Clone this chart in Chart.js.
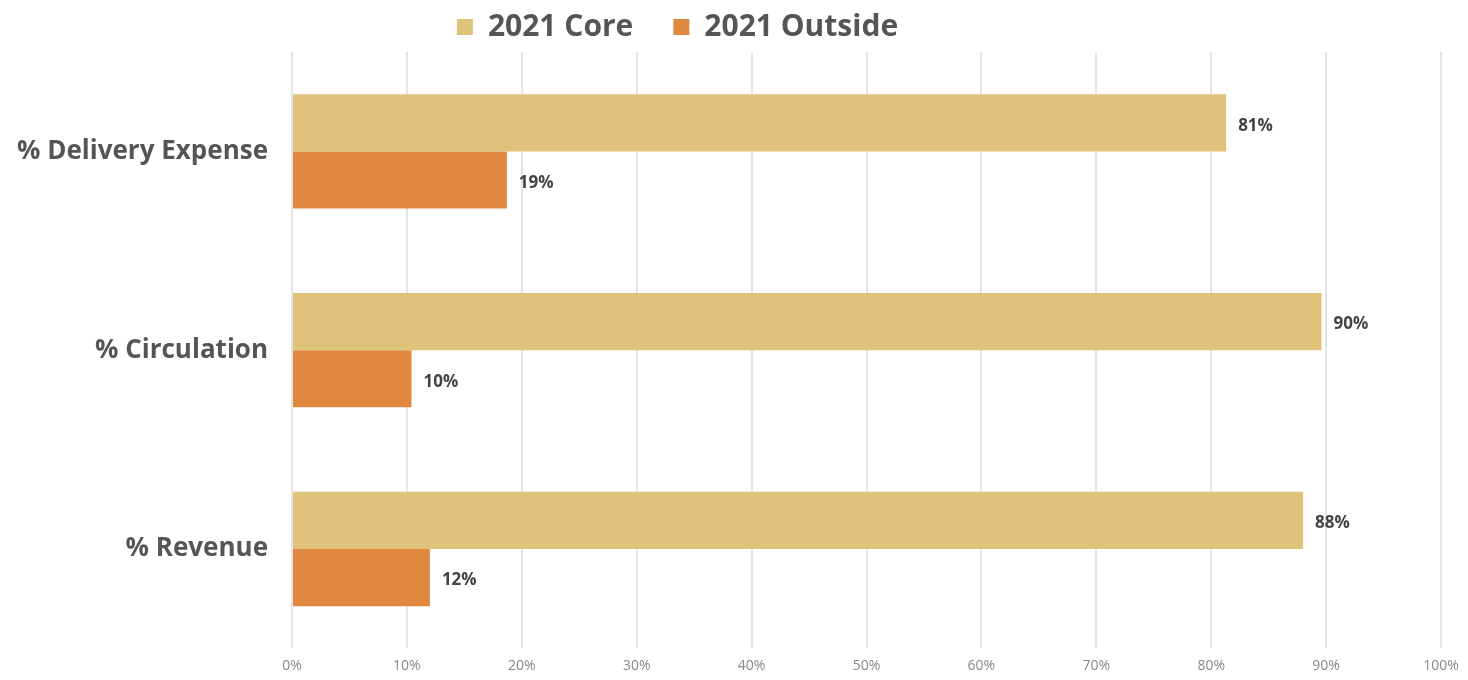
<!DOCTYPE html>
<html>
<head>
<meta charset="utf-8">
<script src="https://cdn.jsdelivr.net/npm/chart.js@4/dist/chart.umd.min.js"></script>
<style>
  html, body { margin: 0; padding: 0; background: #fff; overflow: hidden; }
  #wrap { width: 1468px; height: 680px; }
</style>
</head>
<body>
<div id="wrap"><canvas id="chart"></canvas></div>
<script>
/* Data */
const categories = ["% Delivery Expense", "% Circulation", "% Revenue"];
const coreValues = [81.3, 89.6, 88.0];
const outsideValues = [18.7, 10.4, 12.0];
const seriesNames = ["2021 Core", "2021 Outside"];

/* Colours and fonts */
const CORE_COLOR = "#E0C37A";
const OUTSIDE_COLOR = "#E08840";
const TEXT_COLOR = "#555555";
const FONT = "'Open Sans', Lato, sans-serif";

/* Value labels at the end of each bar, plus a small legend shift to the left */
const barLabels = {
  id: "barLabels",
  afterUpdate(chart) {
    if (chart.legend) {
      chart.legend.right -= 86;
      chart.legend.width -= 86;
    }
  },
  afterDatasetsDraw(chart) {
    const ctx = chart.ctx;
    ctx.save();
    ctx.font = "bold 17px " + FONT;
    ctx.fillStyle = "#444";
    ctx.textAlign = "left";
    ctx.textBaseline = "middle";
    chart.data.datasets.forEach((ds, i) => {
      chart.getDatasetMeta(i).data.forEach((bar, j) => {
        ctx.fillText(Math.round(ds.data[j]) + "%", bar.x + 12, bar.y + 3);
      });
    });
    ctx.restore();
  },
};

new Chart(document.getElementById("chart"), {
  type: "bar",
  plugins: [barLabels],
  data: {
    labels: categories,
    datasets: [
      {
        label: seriesNames[0],
        data: coreValues,
        backgroundColor: CORE_COLOR,
        barPercentage: 1,
        categoryPercentage: 0.575,
      },
      {
        label: seriesNames[1],
        data: outsideValues,
        backgroundColor: OUTSIDE_COLOR,
        barPercentage: 1,
        categoryPercentage: 0.575,
      },
    ],
  },
  options: {
    indexAxis: "y",
    responsive: true,
    maintainAspectRatio: false,
    animation: false,
    /* negative top padding lets the wide legend item spacing keep the text near the top */
    layout: { padding: { left: 0, right: 27, top: -28, bottom: 0 } },
    plugins: {
      tooltip: { enabled: false },
      legend: {
        position: "top",
        labels: {
          color: TEXT_COLOR,
          font: { family: FONT, size: 30, weight: "bold" },
          boxWidth: 16,
          boxHeight: 16,
          padding: 40,
        },
        afterFit(legend) { legend.height = 85; },
      },
    },
    scales: {
      x: {
        min: 0,
        max: 100,
        ticks: {
          stepSize: 10,
          color: "#888",
          font: { family: FONT, size: 14 },
          callback: (v) => v + "%",
          padding: 9,
        },
        grid: { color: "#e4e4e4", lineWidth: 2, drawTicks: false },
        border: { display: false },
        afterFit(scale) { scale.height = 24; },
      },
      y: {
        ticks: {
          color: TEXT_COLOR,
          font: { family: FONT, size: 26, weight: "bold" },
          padding: 16,
        },
        grid: { display: false },
        border: { display: false },
        afterFit(scale) { scale.width = 292; },
      },
    },
  },
});
</script>
</body>
</html>
